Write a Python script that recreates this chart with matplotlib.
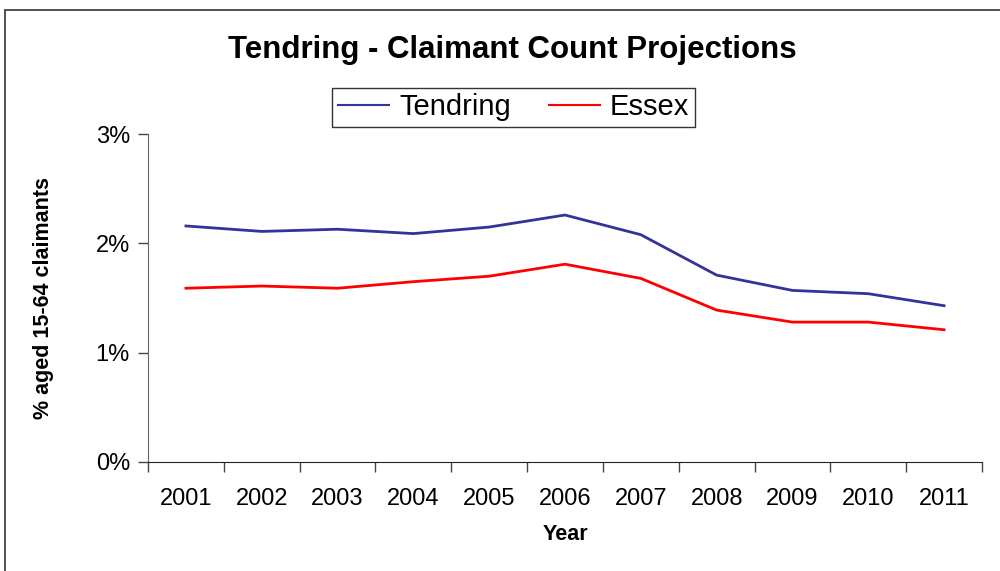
import matplotlib.pyplot as plt
from matplotlib.patches import Rectangle

plt.rcParams['font.family'] = ['Liberation Sans', 'DejaVu Sans']

# Data (percent of people aged 15-64 claiming)
years = ['2001', '2002', '2003', '2004', '2005', '2006',
         '2007', '2008', '2009', '2010', '2011']
tendring = [2.16, 2.11, 2.13, 2.09, 2.15, 2.26, 2.08, 1.71, 1.57, 1.54, 1.43]
essex = [1.59, 1.61, 1.59, 1.65, 1.70, 1.81, 1.68, 1.39, 1.28, 1.28, 1.21]

fig = plt.figure(figsize=(10, 5.71), dpi=100)
ax = fig.add_axes([0.148, 0.191, 0.834, 0.574])

x = [i + 0.5 for i in range(len(years))]
ax.plot(x, tendring, color='#333399', linewidth=2, label='Tendring')
ax.plot(x, essex, color='#ff0000', linewidth=2, label='Essex')

ax.set_xlim(0, len(years))
ax.set_ylim(0, 3)

# y axis
ax.set_yticks([0, 1, 2, 3])
ax.set_yticklabels(['0%', '1%', '2%', '3%'], fontsize=17)
ax.tick_params(axis='y', direction='out', length=7, width=1, color='#444444', pad=6)

# category ticks sit on the boundaries, labels in the middle
ax.set_xticks(range(len(years) + 1))
ax.set_xticklabels([])
ax.set_xticks(x, minor=True)
ax.set_xticklabels(years, minor=True, fontsize=17)
ax.tick_params(axis='x', which='major', direction='out', length=7, width=1, color='#444444')
ax.tick_params(axis='x', which='minor', length=0, pad=19)

for side in ['top', 'right']:
    ax.spines[side].set_visible(False)
ax.spines['left'].set_color('#666666')
ax.spines['bottom'].set_color('#222222')

ax.set_xlabel('Year', fontsize=15.5, fontweight='bold', labelpad=10)
ax.set_ylabel('% aged 15-64 claimants', fontsize=15.5, fontweight='bold', labelpad=30)

fig.text(0.512, 0.912, 'Tendring - Claimant Count Projections',
         ha='center', va='center', fontsize=22.5, fontweight='bold')

leg = ax.legend(loc='center', bbox_to_anchor=(0.5135, 0.812), bbox_transform=fig.transFigure,
                ncol=2, fontsize=21, frameon=True, fancybox=False, edgecolor='black',
                handlelength=1.75, handletextpad=0.35, columnspacing=1.3,
                borderpad=0.18, borderaxespad=0)
leg.get_frame().set_linewidth(1)
for line in leg.get_lines():
    line.set_linewidth(1.5)

# outer chart frame
fig.patches.append(Rectangle((0.005, -0.2), 1.2, 1.2 - 0.0175, transform=fig.transFigure,
                             fill=False, edgecolor='#333333', linewidth=1.2))

fig.savefig('out.png', dpi=100)
